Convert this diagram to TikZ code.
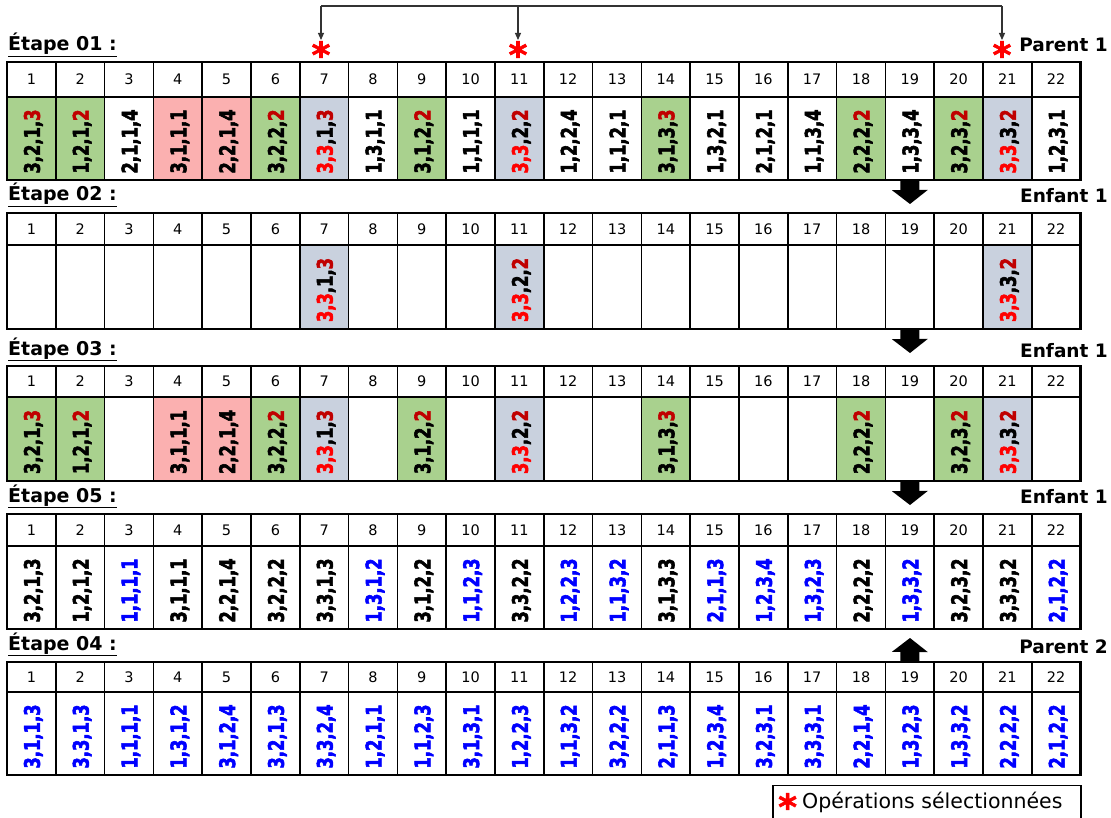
\documentclass[tikz,border=0pt]{standalone}
\usepackage{fontspec}
\setmainfont{DejaVu Sans}
\newfontfamily\dataf[FakeStretch=0.76, BoldFeatures={FakeBold=2.5}]{DejaVu Sans}
\newfontfamily\starf[FakeBold=1.5]{DejaVu Sans}
\usetikzlibrary{arrows.meta}
\definecolor{grn}{HTML}{A9D18E}
\definecolor{pnk}{HTML}{FBB0B0}
\definecolor{gry}{HTML}{C9D1DE}
\definecolor{wht}{HTML}{FFFFFF}
\definecolor{dred}{HTML}{C00000}
\definecolor{sred}{HTML}{FF0000}
\definecolor{sblue}{HTML}{0000FF}
\definecolor{conn}{HTML}{333333}
\newcommand\cK[4]{#1,#2,#3,#4}
\newcommand\cB[4]{\textcolor{sblue}{#1,#2,#3,#4}}
\newcommand\cG[4]{#1,#2,#3,\textcolor{dred}{#4}}
\newcommand\cY[4]{\textcolor{sred}{#1,#2},#3,\textcolor{dred}{#4}}
\newcommand\cE{}
\newcommand\redstar{\textcolor{sred}{\starf\bfseries\fontsize{36}{36}\selectfont *}}
\newcommand\tablerow[5]{%
  \foreach \f/\t [count=\i] in {#5} {
    \pgfmathsetmacro\cx{7+(\i-0.5)*48.8}
    \node[hcell, minimum height={#3-#2}] (h#1-\i) at (\cx, {(#2+#3)/2}) {\i};
    \node[dcell, fill=\f, minimum height={#4-#3}] (d#1-\i) at (\cx, {(#3+#4)/2}) {};
    \node[dtext] (t#1-\i) at (\cx+2, {(#3+#4)/2+3}) {\t};
  }
  \draw[line width=2.4pt] (7,#2) rectangle (1080.6,#4);
  \draw[line width=2.2pt] (7,#3) -- (1080.6,#3);
}
\begin{document}
\begin{tikzpicture}[x=1pt,y=-1pt,
  hcell/.style={draw, line width=1.5pt, minimum width=48.8pt, inner sep=0pt, fill=white,
    font=\fontsize{14.5}{14.5}\selectfont},
  dcell/.style={draw, line width=1.5pt, minimum width=48.8pt, inner sep=0pt},
  dtext/.style={rotate=90, inner sep=0pt, font=\dataf\bfseries\fontsize{21.5}{22}\selectfont},
  steplabel/.style={anchor=base west, inner sep=0pt, font=\bfseries\fontsize{19}{19}\selectfont},
  sidelabel/.style={anchor=base east, inner sep=0pt, font=\bfseries\fontsize{18.5}{18.5}\selectfont},
  starnode/.style={anchor=north, inner sep=0pt},
  thinconn/.style={line width=1.1pt, draw=conn},
  thinarrow/.style={line width=1.1pt, draw=conn, -{Triangle[width=6pt,length=7pt]}, shorten >=1pt},
  blockarrow/.style={line width=19pt, -{Triangle[width=36pt,length=14pt,line width=0pt]}},
]
\useasboundingbox (0,0) rectangle (1111,818);

% ---------- rows ----------
\tablerow{1}{62}{97}{180}{grn/\cG3213, grn/\cG1212, wht/\cK2114, pnk/\cK3111, pnk/\cK2214,
  grn/\cG3222, gry/\cY3313, wht/\cK1311, grn/\cG3122, wht/\cK1111, gry/\cY3322,
  wht/\cK1224, wht/\cK1121, grn/\cG3133, wht/\cK1321, wht/\cK2121, wht/\cK1134,
  grn/\cG2222, wht/\cK1334, grn/\cG3232, gry/\cY3332, wht/\cK1231}
\tablerow{2}{213}{245}{329}{wht/\cE, wht/\cE, wht/\cE, wht/\cE, wht/\cE, wht/\cE, gry/\cY3313,
  wht/\cE, wht/\cE, wht/\cE, gry/\cY3322, wht/\cE, wht/\cE, wht/\cE, wht/\cE, wht/\cE,
  wht/\cE, wht/\cE, wht/\cE, wht/\cE, gry/\cY3332, wht/\cE}
\tablerow{3}{366}{397}{481}{grn/\cG3213, grn/\cG1212, wht/\cE, pnk/\cK3111, pnk/\cK2214,
  grn/\cG3222, gry/\cY3313, wht/\cE, grn/\cG3122, wht/\cE, gry/\cY3322,
  wht/\cE, wht/\cE, grn/\cG3133, wht/\cE, wht/\cE, wht/\cE,
  grn/\cG2222, wht/\cE, grn/\cG3232, gry/\cY3332, wht/\cE}
\tablerow{4}{514}{546}{629}{wht/\cK3213, wht/\cK1212, wht/\cB1111, wht/\cK3111, wht/\cK2214,
  wht/\cK3222, wht/\cK3313, wht/\cB1312, wht/\cK3122, wht/\cB1123, wht/\cK3322,
  wht/\cB1223, wht/\cB1132, wht/\cK3133, wht/\cB2113, wht/\cB1234, wht/\cB1323,
  wht/\cK2222, wht/\cB1332, wht/\cK3232, wht/\cK3332, wht/\cB2122}
\tablerow{5}{662}{692}{775}{wht/\cB3113, wht/\cB3313, wht/\cB1111, wht/\cB1312, wht/\cB3124,
  wht/\cB3213, wht/\cB3324, wht/\cB1211, wht/\cB1123, wht/\cB3131, wht/\cB1223,
  wht/\cB1132, wht/\cB3222, wht/\cB2113, wht/\cB1234, wht/\cB3231, wht/\cB3331,
  wht/\cB2214, wht/\cB1323, wht/\cB1332, wht/\cB2222, wht/\cB2122}

% ---------- step labels ----------
\node[steplabel] (e1) at (8,51) {\underline{Étape 01 :}};
\node[steplabel] (e2) at (8,201) {\underline{Étape 02 :}};
\node[steplabel] (e3) at (8,355) {\underline{Étape 03 :}};
\node[steplabel] (e5) at (8,502) {\underline{Étape 05 :}};
\node[steplabel] (e4) at (8,650) {\underline{Étape 04 :}};

\node[sidelabel] (p1) at (1108,52) {Parent 1};
\node[sidelabel] (c1) at (1108,203) {Enfant 1};
\node[sidelabel] (c2) at (1108,357) {Enfant 1};
\node[sidelabel] (c3) at (1108,503) {Enfant 1};
\node[sidelabel] (p2) at (1108,653) {Parent 2};

% ---------- stars and top connector ----------
\node[starnode] (s7) at (321,41) {\redstar};
\node[starnode] (s11) at (518,41) {\redstar};
\node[starnode] (s21) at (1002,41) {\redstar};
\coordinate (k7) at (321,6);
\coordinate (k11) at (518,6);
\coordinate (k21) at (1002,6);
\draw[thinconn] (k7) -- (k21);
\draw[thinarrow] (k7) -- (s7.north);
\draw[thinarrow] (k11) -- (s11.north);
\draw[thinarrow] (k21) -- (s21.north);

% ---------- block arrows ----------
\coordinate (a1) at (910,204);
\coordinate (a2) at (910,353);
\coordinate (a3) at (910,505);
\coordinate (a4) at (910,638);
\draw[blockarrow] (d1-19.south) -- (a1);
\draw[blockarrow] (d2-19.south) -- (a2);
\draw[blockarrow] (d3-19.south) -- (a3);
\draw[blockarrow] (h5-19.north) -- (a4);

% ---------- legend ----------
\node[draw, line width=1.2pt, minimum width=308pt, minimum height=33pt, inner sep=0pt] (leg) at (927,802) {};
\node[anchor=north west, inner sep=0pt] (legstar) at (778,793) {\redstar};
\node[anchor=west, inner sep=0pt, font=\fontsize{20.5}{20.5}\selectfont] (legtext) at (802,802) {Opérations sélectionnées};
\end{tikzpicture}
\end{document}
